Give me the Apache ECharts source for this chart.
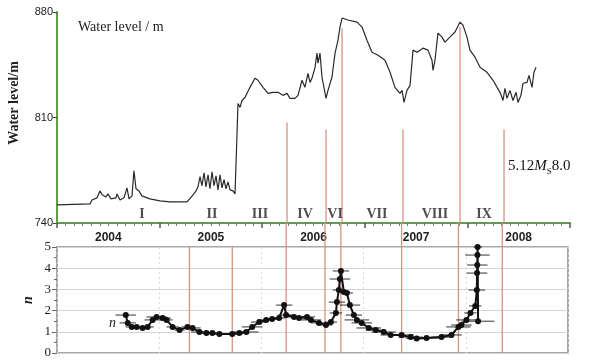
<!DOCTYPE html>
<html>
<head>
<meta charset="utf-8">
<script src="https://cdn.jsdelivr.net/npm/echarts@6/dist/echarts.min.js"></script>
<style>
  html, body { margin: 0; padding: 0; background: #fff; }
  #main { width: 605px; height: 360px; }
</style>
</head>
<body>
<div id="main"></div>
<script>
// water level (m), time in decimal years
var levelYears = [
  2004.000, 2004.322, 2004.341, 2004.390, 2004.419, 2004.439, 2004.458, 2004.478, 2004.497, 2004.526,
  2004.575, 2004.585, 2004.614, 2004.653, 2004.682, 2004.702, 2004.731, 2004.750, 2004.770, 2004.799,
  2004.828, 2004.906, 2005.004, 2005.101, 2005.238, 2005.267, 2005.326, 2005.355, 2005.374, 2005.394,
  2005.413, 2005.433, 2005.452, 2005.472, 2005.491, 2005.511, 2005.530, 2005.550, 2005.569, 2005.589,
  2005.608, 2005.628, 2005.647, 2005.667, 2005.686, 2005.715, 2005.735, 2005.745, 2005.754, 2005.764,
  2005.784, 2005.803, 2005.832, 2005.881, 2005.930, 2005.959, 2006.008, 2006.057, 2006.105, 2006.154,
  2006.203, 2006.242, 2006.271, 2006.320, 2006.349, 2006.388, 2006.417, 2006.446, 2006.466, 2006.485,
  2006.515, 2006.534, 2006.544, 2006.563, 2006.583, 2006.622, 2006.641, 2006.680, 2006.710, 2006.739,
  2006.758, 2006.778, 2006.836, 2006.924, 2006.973, 2007.021, 2007.070, 2007.129, 2007.197, 2007.246,
  2007.294, 2007.343, 2007.363, 2007.382, 2007.411, 2007.441, 2007.470, 2007.509, 2007.567, 2007.616,
  2007.655, 2007.665, 2007.684, 2007.713, 2007.752, 2007.782, 2007.830, 2007.879, 2007.928, 2007.957,
  2007.996, 2008.025, 2008.074, 2008.123, 2008.191, 2008.250, 2008.289, 2008.318, 2008.347, 2008.366,
  2008.386, 2008.415, 2008.444, 2008.474, 2008.493, 2008.522, 2008.542, 2008.581, 2008.600, 2008.630,
  2008.649, 2008.669
];
var levelValues = [
  752.0, 752.7, 755.3, 756.7, 761.3, 758.7, 760.0, 757.3, 759.3, 756.0,
  756.7, 759.3, 755.3, 756.7, 763.3, 756.0, 758.0, 774.7, 762.7, 761.3,
  758.0, 756.0, 754.7, 754.0, 754.0, 754.0, 758.7, 761.3, 764.0, 770.7,
  764.7, 773.3, 764.0, 772.0, 762.7, 774.0, 764.7, 771.3, 762.0, 772.0,
  763.3, 768.7, 762.7, 767.3, 762.0, 761.3, 759.3, 760.0, 798.0, 819.3,
  816.7, 821.3, 823.3, 830.0, 836.0, 834.7, 830.0, 826.0, 826.7, 826.7,
  824.7, 826.0, 822.7, 822.7, 824.7, 834.7, 830.0, 839.3, 833.3, 836.0,
  843.3, 852.7, 846.0, 852.7, 836.7, 822.7, 828.0, 836.7, 852.7, 861.3,
  870.0, 876.0, 874.7, 873.3, 870.0, 861.3, 853.3, 851.3, 848.0, 840.0,
  830.0, 826.0, 828.0, 820.0, 828.0, 831.3, 854.7, 853.3, 856.0, 854.7,
  848.0, 841.3, 848.0, 866.0, 863.3, 860.0, 863.3, 866.7, 873.3, 871.3,
  863.3, 854.7, 850.0, 843.3, 840.0, 834.7, 830.0, 826.7, 821.3, 829.3,
  822.7, 828.0, 821.3, 826.7, 820.0, 824.7, 832.7, 833.3, 838.0, 830.0,
  840.0, 843.3
];

// n values with horizontal error half-widths (years)
var nYears = [
  2004.673, 2004.692, 2004.731, 2004.780, 2004.838, 2004.887, 2004.936, 2004.975, 2005.033, 2005.072,
  2005.131, 2005.199, 2005.277, 2005.326, 2005.394, 2005.462, 2005.520, 2005.589, 2005.715, 2005.784,
  2005.852, 2005.910, 2005.979, 2006.047, 2006.105, 2006.173, 2006.222, 2006.242, 2006.320, 2006.368,
  2006.446, 2006.485, 2006.563, 2006.632, 2006.680, 2006.729, 2006.739, 2006.758, 2006.768, 2006.778,
  2006.807, 2006.836, 2006.866, 2006.905, 2006.934, 2006.982, 2007.051, 2007.119, 2007.197, 2007.265,
  2007.372, 2007.460, 2007.519, 2007.616, 2007.762, 2007.860, 2007.928, 2007.957, 2008.006, 2008.045,
  2008.093, 2008.108, 2008.110, 2008.112, 2008.114, 2008.116, 2008.120
];
var nValues = [
  1.79, 1.42, 1.23, 1.23, 1.18, 1.23, 1.56, 1.70, 1.65, 1.56,
  1.23, 1.08, 1.23, 1.18, 0.99, 0.94, 0.94, 0.90, 0.90, 0.94,
  0.99, 1.23, 1.46, 1.56, 1.60, 1.65, 2.26, 1.79, 1.70, 1.65,
  1.70, 1.56, 1.42, 1.32, 1.46, 1.89, 2.40, 2.97, 3.49, 3.87,
  2.88, 2.83, 2.26, 1.79, 1.56, 1.42, 1.18, 1.08, 0.99, 0.85,
  0.85, 0.75, 0.68, 0.71, 0.75, 0.85, 1.23, 1.32, 1.56, 1.89,
  2.22, 2.97, 3.77, 4.15, 4.62, 5.00, 1.50
];
var nErrors = [
  0.10, 0.08, 0.06, 0.06, 0.05, 0.06, 0.08, 0.10, 0.08, 0.06,
  0.06, 0.05, 0.06, 0.08, 0.08, 0.06, 0.06, 0.08, 0.10, 0.10,
  0.12, 0.10, 0.08, 0.08, 0.06, 0.06, 0.08, 0.08, 0.10, 0.08,
  0.08, 0.10, 0.08, 0.06, 0.06, 0.06, 0.08, 0.06, 0.10, 0.08,
  0.06, 0.06, 0.10, 0.08, 0.12, 0.10, 0.12, 0.10, 0.12, 0.10,
  0.12, 0.12, 0.10, 0.12, 0.10, 0.10, 0.12, 0.10, 0.10, 0.06,
  0.06, 0.08, 0.10, 0.10, 0.12, 0.04, 0.16
];

// phase boundary lines: time, and water level where the line starts in the top panel
var eventYears = [2005.296, 2005.715, 2006.242, 2006.622, 2006.778, 2007.372, 2007.928, 2008.357];
var eventTopLevels = [null, null, 806.7, 802.0, 869.3, 802.0, 870.0, 802.0];

var phaseNames = ['I', 'II', 'III', 'IV', 'VI', 'VII', 'VIII', 'IX'];
var phaseYears = [2004.828, 2005.511, 2005.979, 2006.417, 2006.710, 2007.119, 2007.684, 2008.162];
var phaseLevel = 746;

var yearLabels = ['2004', '2005', '2006', '2007', '2008'];
var yearLabelPos = [2004.5, 2005.5, 2006.5, 2007.5, 2008.5];

var GREEN = '#5e9e45';
var RED = '#d39482';
var SERIF = '"Liberation Serif", "DejaVu Serif", serif';

var myChart = echarts.init(document.getElementById('main'));

var levelData = levelYears.map(function (t, i) { return [t, levelValues[i]]; });
var nData = nYears.map(function (t, i) { return [t, nValues[i], nErrors[i]]; });
var topEvents = [];
eventYears.forEach(function (t, i) {
  if (eventTopLevels[i] != null) topEvents.push([t, eventTopLevels[i]]);
});
var bottomEvents = eventYears.map(function (t, i) { return [t, eventTopLevels[i] != null ? 1 : 0]; });
var phaseData = phaseYears.map(function (t, i) { return { value: [t, phaseLevel], name: phaseNames[i] }; });

var option = {
  backgroundColor: '#fff',
  animation: false,
  grid: [
    { left: 57, right: 35, top: 12, height: 211 },
    { left: 57, right: 37, top: 247, height: 106, show: true, borderColor: '#8a8a8a', borderWidth: 1.5, backgroundColor: 'transparent' }
  ],
  xAxis: [
    {
      gridIndex: 0, type: 'value', min: 2004, max: 2009, interval: 1,
      axisLine: { lineStyle: { color: GREEN, width: 2 } },
      axisTick: { show: true, length: 5, lineStyle: { color: '#555', width: 1.5 } },
      minorTick: { show: true, splitNumber: 12, length: 3, lineStyle: { color: '#777' } },
      axisLabel: {
        customValues: yearLabelPos,
        formatter: function (v) { return yearLabels[yearLabelPos.indexOf(v)] || ''; },
        color: '#222', fontSize: 12, fontWeight: 'bold', fontFamily: 'Arial, "Liberation Sans", sans-serif', margin: 9
      },
      splitLine: { show: false }
    },
    {
      gridIndex: 1, type: 'value', min: 2004, max: 2009, interval: 1,
      axisLine: { show: false },
      axisTick: { show: false },
      minorTick: { show: false },
      axisLabel: { show: false },
      splitLine: { show: true, lineStyle: { color: '#d8d8d8', type: [2, 3], width: 1 } }
    }
  ],
  yAxis: [
    {
      gridIndex: 0, type: 'value', min: 740, max: 880, interval: 70,
      axisLine: { show: true, lineStyle: { color: GREEN, width: 2 } },
      axisTick: { show: true, length: 4, lineStyle: { color: '#444' } },
      axisLabel: { color: '#222', fontSize: 11, fontFamily: 'Arial, "Liberation Sans", sans-serif', margin: 4 },
      splitLine: { show: false }
    },
    {
      gridIndex: 1, type: 'value', min: 0, max: 5, interval: 1,
      axisLine: { show: false },
      axisTick: { show: true, length: 5, lineStyle: { color: '#666' } },
      minorTick: { show: true, splitNumber: 2, length: 3, lineStyle: { color: '#666' } },
      axisLabel: { color: '#222', fontSize: 13, fontFamily: SERIF, margin: 6 },
      splitLine: { show: true, lineStyle: { color: '#d4d4d4', width: 1.2 } }
    }
  ],
  series: [
    {
      type: 'custom', xAxisIndex: 0, yAxisIndex: 0, data: topEvents, z: 1, silent: true,
      renderItem: function (params, api) {
        var p1 = api.coord([api.value(0), api.value(1)]);
        var p2 = api.coord([api.value(0), 740]);
        return { type: 'line', shape: { x1: p1[0], y1: p1[1], x2: p2[0], y2: p2[1] }, style: { stroke: RED, lineWidth: 1.3 } };
      }
    },
    {
      type: 'custom', xAxisIndex: 1, yAxisIndex: 1, data: bottomEvents, z: 1, silent: true, clip: false,
      renderItem: function (params, api) {
        var p1 = api.coord([api.value(0), 5]);
        var p2 = api.coord([api.value(0), 0]);
        var y1 = api.value(1) ? p1[1] - 24 : p1[1];
        return { type: 'line', shape: { x1: p1[0], y1: y1, x2: p2[0], y2: p2[1] }, style: { stroke: RED, lineWidth: 1.3 } };
      }
    },
    {
      type: 'line', xAxisIndex: 0, yAxisIndex: 0, data: levelData, z: 3,
      showSymbol: false, symbol: 'none',
      lineStyle: { color: '#2a2a2a', width: 1.2 }
    },
    {
      type: 'scatter', xAxisIndex: 0, yAxisIndex: 0, data: phaseData, symbolSize: 0, z: 4,
      label: {
        show: true, position: 'inside', formatter: '{b}',
        color: '#222', fontSize: 14, fontWeight: 'bold', fontFamily: SERIF
      }
    },
    {
      type: 'custom', xAxisIndex: 1, yAxisIndex: 1, data: nData, z: 3, silent: true,
      renderItem: function (params, api) {
        var t = api.value(0), n = api.value(1), e = api.value(2);
        var a = api.coord([t - e, n]);
        var b = api.coord([t + e, n]);
        return { type: 'line', shape: { x1: a[0], y1: a[1], x2: b[0], y2: b[1] }, style: { stroke: '#333', lineWidth: 1 } };
      }
    },
    {
      type: 'line', xAxisIndex: 1, yAxisIndex: 1, data: nData, z: 4,
      symbol: 'circle', symbolSize: 6, showSymbol: true,
      itemStyle: { color: '#111' },
      lineStyle: { color: '#111', width: 2 }
    }
  ],
  graphic: [
    {
      type: 'text', left: 78, top: 20,
      style: { text: 'Water level / m', fontSize: 14, fontFamily: SERIF, fill: '#222' }
    },
    {
      type: 'text', x: 7, y: 103, rotation: Math.PI / 2,
      style: { text: 'Water level/m', fontSize: 14, fontWeight: 'bold', fontFamily: SERIF, fill: '#222', align: 'center', verticalAlign: 'top' }
    },
    {
      type: 'text', x: 21, y: 300, rotation: Math.PI / 2,
      style: { text: 'n', fontSize: 14, fontWeight: 'bold', fontStyle: 'italic', fontFamily: SERIF, fill: '#222', align: 'center', verticalAlign: 'top' }
    },
    {
      type: 'text', x: 109, y: 316,
      style: { text: 'n', fontSize: 14, fontStyle: 'italic', fontFamily: SERIF, fill: '#222' }
    },
    {
      type: 'text', x: 508, y: 156,
      style: {
        text: '{a|5.12}{i|M}{s|S}{a|8.0}',
        rich: {
          a: { fontSize: 15, fontFamily: SERIF, fill: '#111', verticalAlign: 'middle', lineHeight: 20 },
          i: { fontSize: 15, fontFamily: SERIF, fontStyle: 'italic', fill: '#111', verticalAlign: 'middle', lineHeight: 20 },
          s: { fontSize: 9, fontFamily: SERIF, fill: '#111', verticalAlign: 'bottom', lineHeight: 10 }
        }
      }
    }
  ]
};

myChart.setOption(option);
</script>
</body>
</html>
